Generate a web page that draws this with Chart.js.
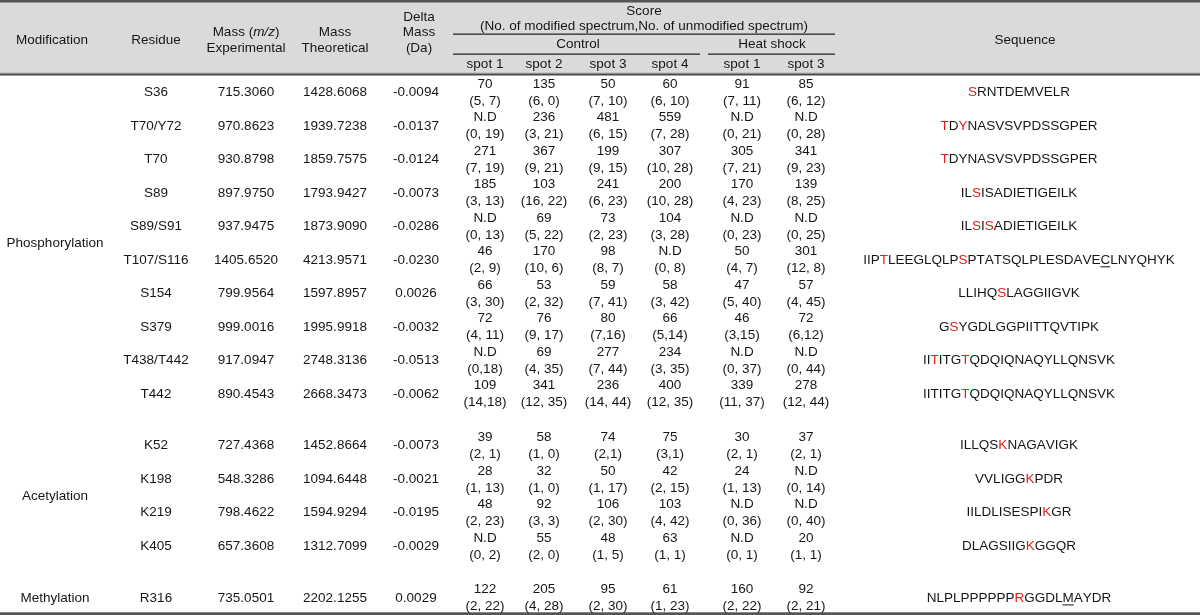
<!DOCTYPE html>
<html><head><meta charset="utf-8">
<script src="https://cdn.jsdelivr.net/npm/chart.js@4.4.1/dist/chart.umd.min.js"></script>
<style>html,body{margin:0;padding:0;background:#fff}#wrap{width:1200px;height:615px;position:relative}</style>
</head><body><div id="wrap"><canvas id="c"></canvas></div>
<script>
// ---------------- DATA ----------------
const modifications = ["Phosphorylation", "Acetylation", "Methylation"];
const modificationOfRow = [0,0,0,0,0,0,0,0,0,0,1,1,1,1,2];
const residues = ["S36","T70/Y72","T70","S89","S89/S91","T107/S116","S154","S379","T438/T442","T442","K52","K198","K219","K405","R316"];
const massExperimental = ["715.3060","970.8623","930.8798","897.9750","937.9475","1405.6520","799.9564","999.0016","917.0947","890.4543","727.4368","548.3286","798.4622","657.3608","735.0501"];
const massTheoretical = ["1428.6068","1939.7238","1859.7575","1793.9427","1873.9090","4213.9571","1597.8957","1995.9918","2748.3136","2668.3473","1452.8664","1094.6448","1594.9294","1312.7099","2202.1255"];
const deltaMass = ["-0.0094","-0.0137","-0.0124","-0.0073","-0.0286","-0.0230","0.0026","-0.0032","-0.0513","-0.0062","-0.0073","-0.0021","-0.0195","-0.0029","0.0029"];

const controlSpot1 = ["70","N.D","271","185","N.D","46","66","72","N.D","109","39","28","48","N.D","122"];
const controlSpot1Counts = ["(5, 7)","(0, 19)","(7, 19)","(3, 13)","(0, 13)","(2, 9)","(3, 30)","(4, 11)","(0,18)","(14,18)","(2, 1)","(1, 13)","(2, 23)","(0, 2)","(2, 22)"];
const controlSpot2 = ["135","236","367","103","69","170","53","76","69","341","58","32","92","55","205"];
const controlSpot2Counts = ["(6, 0)","(3, 21)","(9, 21)","(16, 22)","(5, 22)","(10, 6)","(2, 32)","(9, 17)","(4, 35)","(12, 35)","(1, 0)","(1, 0)","(3, 3)","(2, 0)","(4, 28)"];
const controlSpot3 = ["50","481","199","241","73","98","59","80","277","236","74","50","106","48","95"];
const controlSpot3Counts = ["(7, 10)","(6, 15)","(9, 15)","(6, 23)","(2, 23)","(8, 7)","(7, 41)","(7,16)","(7, 44)","(14, 44)","(2,1)","(1, 17)","(2, 30)","(1, 5)","(2, 30)"];
const controlSpot4 = ["60","559","307","200","104","N.D","58","66","234","400","75","42","103","63","61"];
const controlSpot4Counts = ["(6, 10)","(7, 28)","(10, 28)","(10, 28)","(3, 28)","(0, 8)","(3, 42)","(5,14)","(3, 35)","(12, 35)","(3,1)","(2, 15)","(4, 42)","(1, 1)","(1, 23)"];
const heatSpot1 = ["91","N.D","305","170","N.D","50","47","46","N.D","339","30","24","N.D","N.D","160"];
const heatSpot1Counts = ["(7, 11)","(0, 21)","(7, 21)","(4, 23)","(0, 23)","(4, 7)","(5, 40)","(3,15)","(0, 37)","(11, 37)","(2, 1)","(1, 13)","(0, 36)","(0, 1)","(2, 22)"];
const heatSpot3 = ["85","N.D","341","139","N.D","301","57","72","N.D","278","37","N.D","N.D","20","92"];
const heatSpot3Counts = ["(6, 12)","(0, 28)","(9, 23)","(8, 25)","(0, 25)","(12, 8)","(4, 45)","(6,12)","(0, 44)","(12, 44)","(2, 1)","(0, 14)","(0, 40)","(1, 1)","(2, 21)"];

// {X} = modified residue (red), _X = underlined residue
const sequences = ["{S}RNTDEMVELR","{T}D{Y}NASVSVPDSSGPER","{T}DYNASVSVPDSSGPER","IL{S}ISADIETIGEILK","IL{S}I{S}ADIETIGEILK",
  "IIP{T}LEEGLQLP{S}PTATSQLPLESDAVE_CLNYQHYK","LLIHQ{S}LAGGIIGVK","G{S}YGDLGGPIITTQVTIPK","II{T}ITG{T}QDQIQNAQYLLQNSVK",
  "IITITG{T}QDQIQNAQYLLQNSVK","ILLQS{K}NAGAVIGK","VVLIGG{K}PDR","IILDLISESPI{K}GR","DLAGSIIG{K}GGQR","NLPLPPPPPP{R}GGDL_MAYDR"];

const spotLabels = ["spot 1","spot 2","spot 3","spot 4","spot 1","spot 3"];

// ---------------- LAYOUT ----------------
const COL = {mod:55, residue:156, massExp:246, massTheo:335, delta:416, c1:485, c2:544, c3:608, c4:670, h1:742, h3:806, seq:1019};
const ROW0 = 92.3, ROW_H = 33.5, GROUP_GAP = 18.3;
const rowPos = residues.map((r,i)=> ROW0 + i*ROW_H + modificationOfRow[i]*GROUP_GAP);
const FONT = "'Liberation Sans', Arial, Helvetica, sans-serif";
const FS = 13.5;
const INK = "#161616";
const RED = "#e0201c";

function pts(x){ return rowPos.map(y=>({x:x, y:y})); }
function modPts(){
  return modifications.map((m,g)=>{
    const ys = rowPos.filter((y,i)=>modificationOfRow[i]===g);
    return {x:COL.mod, y:(ys[0]+ys[ys.length-1])/2};
  });
}

const datasets = [
  {kind:"text", texts:modifications, data:modPts()},
  {kind:"text", texts:residues, data:pts(COL.residue)},
  {kind:"text", texts:massExperimental, data:pts(COL.massExp)},
  {kind:"text", texts:massTheoretical, data:pts(COL.massTheo)},
  {kind:"text", texts:deltaMass, data:pts(COL.delta)},
  {kind:"score", texts:controlSpot1, sub:controlSpot1Counts, data:pts(COL.c1)},
  {kind:"score", texts:controlSpot2, sub:controlSpot2Counts, data:pts(COL.c2)},
  {kind:"score", texts:controlSpot3, sub:controlSpot3Counts, data:pts(COL.c3)},
  {kind:"score", texts:controlSpot4, sub:controlSpot4Counts, data:pts(COL.c4)},
  {kind:"score", texts:heatSpot1, sub:heatSpot1Counts, data:pts(COL.h1)},
  {kind:"score", texts:heatSpot3, sub:heatSpot3Counts, data:pts(COL.h3)},
  {kind:"seq", texts:sequences, data:pts(COL.seq)}
].map(d=>Object.assign({pointRadius:0, pointHoverRadius:0, showLine:false}, d));

function txt(ctx, s, x, y, align, opts){
  opts = opts||{};
  ctx.save();
  ctx.font = (opts.italic?"italic ":"") + (opts.size||FS) + "px " + FONT;
  ctx.fillStyle = opts.color||INK;
  ctx.textAlign = align||"center";
  ctx.textBaseline = "middle";
  ctx.fillText(s, x, y);
  ctx.restore();
}
function parseSeq(s){
  const segs=[]; let i=0;
  while(i<s.length){
    if(s[i]==="{"){ const j=s.indexOf("}",i); segs.push({t:s.slice(i+1,j), red:true}); i=j+1; }
    else if(s[i]==="_"){ segs.push({t:s[i+1], u:true}); i+=2; }
    else { segs.push({t:s[i]}); i++; }
  }
  return segs;
}
function drawSeq(ctx, s, cx, y){
  ctx.save();
  ctx.font = FS + "px " + FONT;
  ctx.textBaseline = "middle"; ctx.textAlign = "left";
  const segs = parseSeq(s);
  const total = segs.reduce((a,g)=>a+ctx.measureText(g.t).width,0);
  let x = cx - total/2;
  segs.forEach(g=>{
    const w = ctx.measureText(g.t).width;
    ctx.fillStyle = g.red?RED:INK;
    ctx.fillText(g.t, x, y);
    if(g.u){ ctx.fillStyle=INK; ctx.fillRect(x, y+6.5, w, 1); }
    x += w;
  });
  ctx.restore();
}

const tablePlugin = {
  id:"tablePlugin",
  beforeDatasetsDraw(chart){
    const ctx = chart.ctx, xs = chart.scales.x, ys = chart.scales.y;
    const X = v=>xs.getPixelForValue(v), Y = v=>ys.getPixelForValue(v);
    ctx.save();
    // header background
    ctx.fillStyle = "#dadada";
    ctx.fillRect(X(0), Y(0), X(1200)-X(0), Y(73.5)-Y(0));
    ctx.fillStyle = "#555555";
    ctx.fillRect(X(0), Y(0), X(1200)-X(0), Y(2.5)-Y(0));
    ctx.fillStyle = "#b5b5b5";
    ctx.fillRect(X(0), Y(72.5), X(1200)-X(0), 1);
    ctx.fillStyle = "#4a4a4a";
    ctx.fillRect(X(0), Y(73.5), X(1200)-X(0), 2);
    ctx.fillStyle = "#555555";
    ctx.fillRect(X(0), Y(612.3), X(1200)-X(0), Y(615)-Y(612.3));
    // header rules
    ctx.fillStyle = "#2a2a2a";
    ctx.fillRect(X(453), Y(33.5), X(835)-X(453), 1.3);
    ctx.fillRect(X(453), Y(53.5), X(700)-X(453), 1.3);
    ctx.fillRect(X(708), Y(53.5), X(835)-X(708), 1.3);
    // header text
    txt(ctx, "Modification", X(COL.mod-3), Y(40));
    txt(ctx, "Residue", X(COL.residue), Y(40));
    // Mass (m/z)
    ctx.font = FS+"px "+FONT;
    const a="Mass (", c=")";
    const wa = ctx.measureText(a).width, wc = ctx.measureText(c).width;
    ctx.font = "italic "+FS+"px "+FONT;
    const wb = ctx.measureText("m/z").width;
    let sx = X(COL.massExp) - (wa+wb+wc)/2;
    txt(ctx, a, sx, Y(32), "left"); txt(ctx, "m/z", sx+wa, Y(32), "left", {italic:true}); txt(ctx, c, sx+wa+wb, Y(32), "left");
    txt(ctx, "Experimental", X(COL.massExp), Y(48));
    txt(ctx, "Mass", X(COL.massTheo), Y(32));
    txt(ctx, "Theoretical", X(COL.massTheo), Y(48));
    txt(ctx, "Delta", X(419), Y(17));
    txt(ctx, "Mass", X(419), Y(32.5));
    txt(ctx, "(Da)", X(419), Y(48));
    txt(ctx, "Score", X(644), Y(11.5));
    txt(ctx, "(No. of modified spectrum,No. of unmodified spectrum)", X(644), Y(26.5));
    txt(ctx, "Control", X(578), Y(44));
    txt(ctx, "Heat shock", X(772), Y(44));
    [COL.c1,COL.c2,COL.c3,COL.c4,COL.h1,COL.h3].forEach((cx,k)=>txt(ctx, spotLabels[k], X(cx), Y(64.5)));
    txt(ctx, "Sequence", X(COL.seq+6), Y(40));
    ctx.restore();
  },
  afterDatasetsDraw(chart){
    const ctx = chart.ctx;
    chart.data.datasets.forEach((ds, di)=>{
      const meta = chart.getDatasetMeta(di);
      meta.data.forEach((el, i)=>{
        const x = el.x, y = el.y;
        if(ds.kind==="text") txt(ctx, ds.texts[i], x, y);
        else if(ds.kind==="score"){ txt(ctx, ds.texts[i], x, y-8.3); txt(ctx, ds.sub[i], x, y+8.7); }
        else if(ds.kind==="seq") drawSeq(ctx, ds.texts[i], x, y);
      });
    });
  }
};

new Chart(document.getElementById("c"), {
  type:"scatter",
  data:{datasets},
  options:{
    responsive:true, maintainAspectRatio:false, animation:false,
    layout:{padding:0},
    events:[],
    plugins:{legend:{display:false}, tooltip:{enabled:false}},
    scales:{
      x:{type:"linear", min:0, max:1200, display:false},
      y:{type:"linear", min:0, max:615, reverse:true, display:false}
    }
  },
  plugins:[tablePlugin]
});
</script></body></html>
